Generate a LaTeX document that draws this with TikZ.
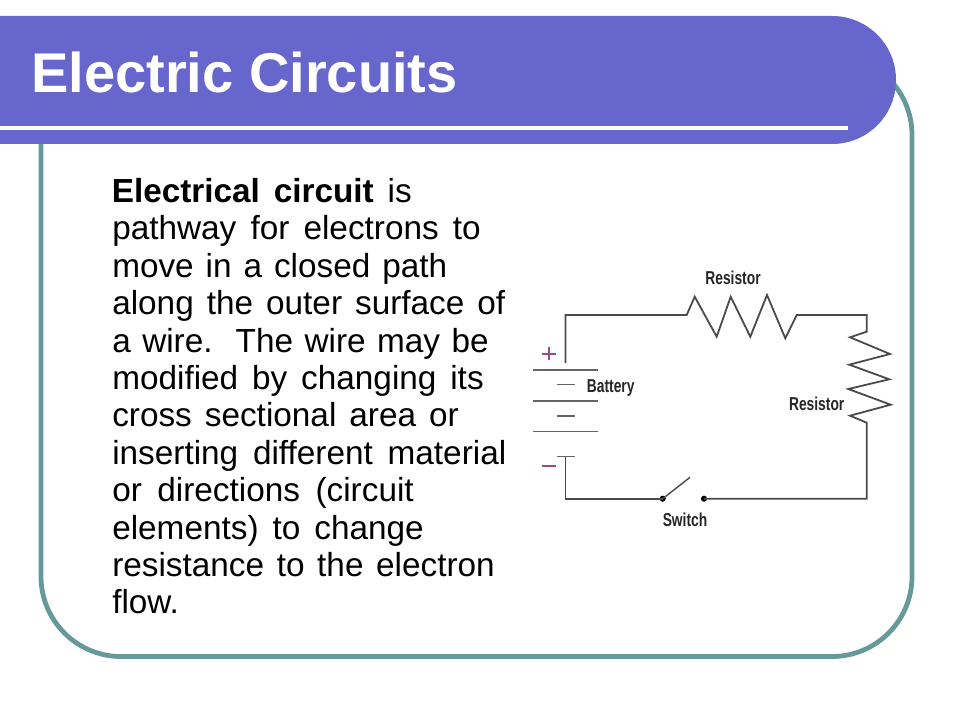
\documentclass[tikz,border=0pt]{standalone}
\usepackage{fontspec}
\setmainfont{Liberation Sans}
\definecolor{band}{HTML}{6666CC}
\definecolor{teal2}{HTML}{669999}
\definecolor{wire}{HTML}{4A4A4A}
\definecolor{polar}{HTML}{9A4A8C}
\newdimen\pxu \pxu=0.75pt
\newcommand{\jl}[2]{\makebox[#1\pxu][s]{#2}}
\tikzset{
  bodyline/.style={anchor=base west,inner sep=0pt,font=\fontsize{25}{29}\selectfont,text=black},
  circ/.style={draw=wire,line width=1.35pt,line join=miter},
  plate/.style={draw=wire!85,line width=1.15pt},
  part/.style={inner sep=0pt,font=\fontsize{14}{16}\bfseries\selectfont,text=black!85,xscale=0.74},
  pin/.style={fill=black,circle,inner sep=0pt,minimum size=4.6pt}
}
\begin{document}
\begin{tikzpicture}[x=0.75pt,y=-0.75pt]
\useasboundingbox (0,0) rectangle (960,720);
\fill[white] (0,0) rectangle (960,720);
% frame
\draw[teal2,line width=3.6pt,rounded corners=60pt] (41,55) rectangle (912,656.5);
% title band
\fill[band,rounded corners=47.9pt] (-140,16) rectangle (896,144);
\fill[band] (0,16) rectangle (300,144);
\fill[white] (0,126) rectangle (848,130);
\node[anchor=base west,inner sep=0pt,text=white,font=\fontsize{42}{48}\bfseries\selectfont] (title) at (31,92.5) {Electric Circuits};
% body text
\node[bodyline] (l1) at (111.5,202.5) {\jl{300}{\textbf{Electrical circuit} is}};
\node[bodyline] (l2) at (112,239.9) {\jl{368.5}{pathway for electrons to}};
\node[bodyline] (l3) at (112,277.3) {\jl{335}{move in a closed path}};
\node[bodyline] (l4) at (112,314.7) {\jl{393}{along the outer surface of}};
\node[bodyline] (l5) at (112,352.1) {\jl{376.5}{a wire.\ \ The wire may be}};
\node[bodyline] (l6) at (112,389.5) {\jl{371.5}{modified by changing its}};
\node[bodyline] (l7) at (112,426.9) {\jl{346.5}{cross sectional area or}};
\node[bodyline] (l8) at (112,464.3) {\jl{394}{inserting different material}};
\node[bodyline] (l9) at (112,501.7) {\jl{301.5}{or directions (circuit}};
\node[bodyline] (l10) at (112,539.1) {\jl{311.5}{elements) to change}};
\node[bodyline] (l11) at (112,576.5) {\jl{382.5}{resistance to the electron}};
\node[bodyline] (l12) at (112,613.5) {flow.};
% circuit points
\coordinate (batTop) at (565.5,363);
\coordinate (corner1) at (565.5,315);
\coordinate (r1a) at (686.7,315);
\coordinate (r1b) at (796.7,315);
\coordinate (corner2) at (866.7,315);
\coordinate (r2a) at (866.7,331.7);
\coordinate (r2b) at (866.7,422.7);
\coordinate (corner3) at (866.7,498.7);
\coordinate (corner4) at (565.5,498.7);
\coordinate (batBot) at (565.5,456.7);
\coordinate (blade) at (690,477.3);
\node[pin] (swL) at (662.7,498.7) {};
\node[pin] (swR) at (704,498.7) {};
% wires and resistors
\draw[circ] (batTop) -- (corner1) -- (r1a) -- (694.7,296.7) -- (716.7,336.7) -- (730.7,296.7) -- (750.3,336.7) -- (767,295) -- (785.3,338.3) -- (r1b) -- (corner2) -- (r2a) -- (850,337.3) -- (890,354) -- (849.3,364.7) -- (889.3,379.3) -- (848.3,389) -- (890.7,404.7) -- (850,415.7) -- (r2b) -- (corner3) -- (swR.center);
\draw[circ] (batBot) -- (corner4) -- (swL.center);
\draw[circ,line width=1.05pt] (swL.center) -- (blade);
% battery
\draw[plate] (533.3,370) -- (597.7,370);
\draw[plate] (556.7,384.3) -- (575,384.3);
\draw[plate] (533.3,401) -- (597.7,401);
\draw[plate] (556.7,416) -- (575,416);
\draw[plate] (533.3,431.7) -- (597.7,431.7);
\draw[plate] (556.7,456.7) -- (575,456.7);
\draw[polar,line width=1.5pt] (542,353.7) -- (555.5,353.7) (548.7,347) -- (548.7,360.4);
\draw[polar,line width=1.5pt] (542,466) -- (555.5,466);
% labels
\node[part] (battery) at (610.7,388.3) {Battery};
\node[part] (res1) at (733,278) {Resistor};
\node[part] (res2) at (816.7,404.3) {Resistor};
\node[part] (switch) at (685,520) {Switch};
\end{tikzpicture}
\end{document}
